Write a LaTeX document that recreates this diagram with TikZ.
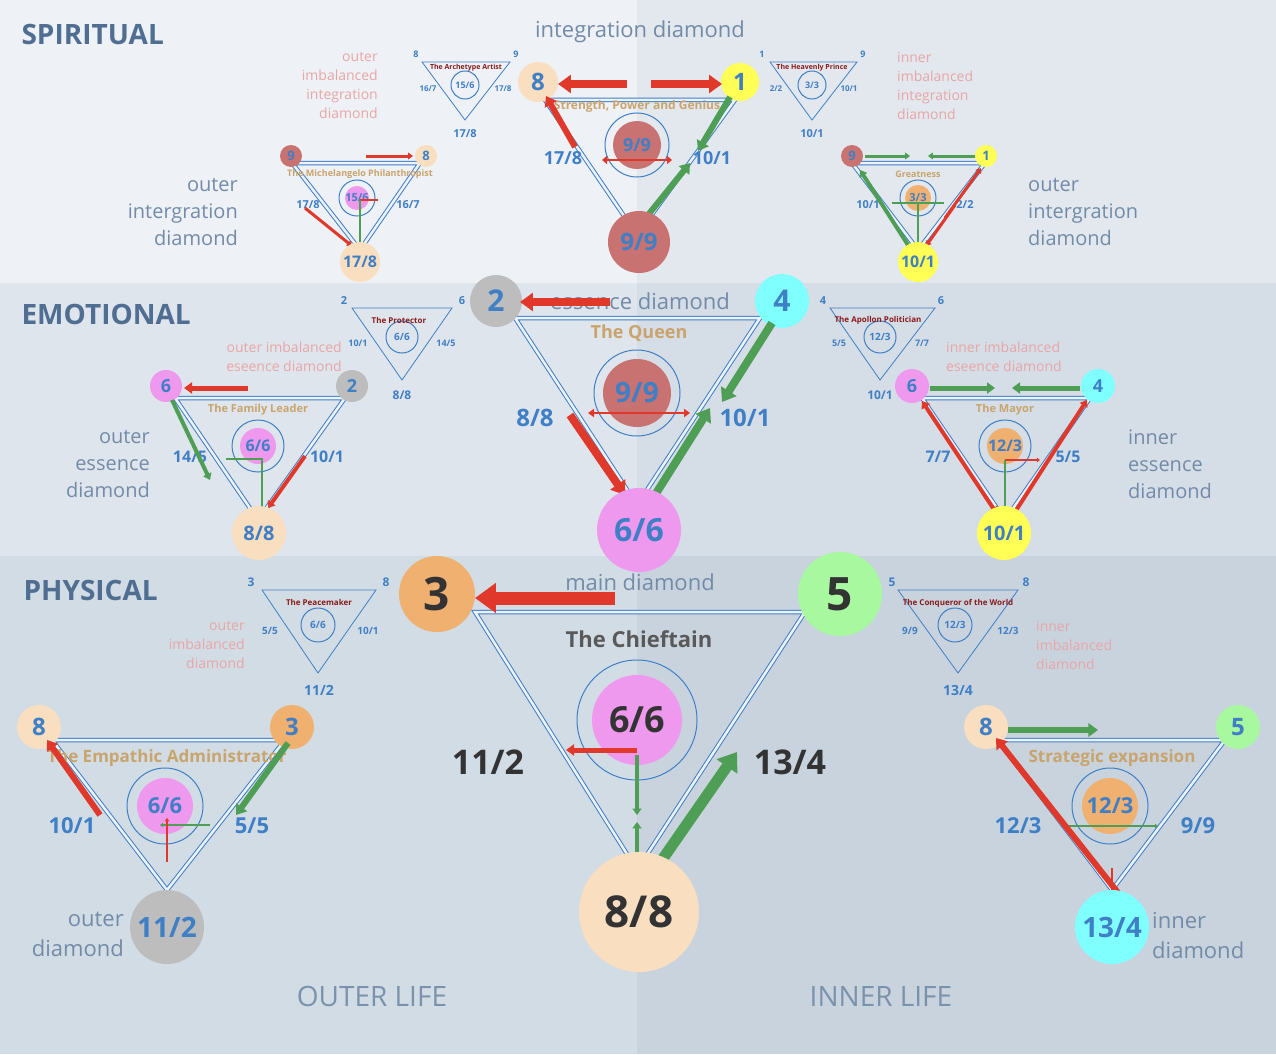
\documentclass[tikz,border=0pt]{standalone}
\usepackage{fontspec}
\setmainfont{Open Sans}
\usetikzlibrary{arrows.meta}
\definecolor{tb}{HTML}{3F7FC6}
\definecolor{hd}{HTML}{4F6E92}
\definecolor{pk}{HTML}{E8A6A6}
\definecolor{tan}{HTML}{C9A46C}
\definecolor{dr}{HTML}{8B1A1A}
\definecolor{ra}{HTML}{E0382A}
\definecolor{ga}{HTML}{4E9E55}
\definecolor{cpeach}{HTML}{F9DEC0}
\definecolor{cyel}{HTML}{FFFF55}
\definecolor{cbrown}{HTML}{C87272}
\definecolor{cpink}{HTML}{EE99EE}
\definecolor{cgray}{HTML}{BDBDBD}
\definecolor{ccyan}{HTML}{80FFFF}
\definecolor{corange}{HTML}{F0B070}
\definecolor{cgreen}{HTML}{A8F8A0}
\definecolor{bgA}{HTML}{EEF1F5}
\definecolor{bgB}{HTML}{E2E8EE}
\definecolor{bgC}{HTML}{DFE5EC}
\definecolor{bgD}{HTML}{D5DDE6}
\definecolor{bgE}{HTML}{D2DCE5}
\definecolor{bgF}{HTML}{C8D3DE}
\newcommand\fz[1]{\fontsize{#1}{#1}\selectfont}
\newcommand\fzl[1]{\fontsize{#1}{\the\numexpr#1*135/100\relax}\selectfont}
\tikzset{
 cc/.style 2 args={circle,inner sep=0,minimum size=#1,fill=#2},
 lab/.style={text=tb,font=\bfseries\fz{#1}},
 ttl/.style={text=tan,font=\bfseries\fz{#1}},
 ttr/.style={text=dr,font=\bfseries\fz{#1}},
 hdr/.style={text=hd,font=\bfseries\fz{28}},
 gry/.style 2 args={text=hd!80,font=\fzl{#1},align=#2,inner sep=0},
 pinkt/.style 2 args={text=pk,font=\fzl{#1},align=#2,inner sep=0},
 tri/.style={draw=tb,line width=1pt,double=white!90!tb,double distance=2.5pt},
 stri/.style={draw=tb,line width=0.8pt},
 ring/.style={draw=tb,line width=1pt,circle,inner sep=0,minimum size=#1},
 rarr/.style={draw=ra,line width=#1,-{Triangle[length=#1*1.6,width=#1*2.2]}},
 garr/.style={draw=ga,line width=#1,-{Triangle[length=#1*1.6,width=#1*2.2]}},
}
\begin{document}
\begin{tikzpicture}[x=1pt,y=-1pt]
\useasboundingbox (0,0) rectangle (1276,1054);
\fill[bgA] (0,0) rectangle (637,283);
\fill[bgB] (637,0) rectangle (1276,283);
\fill[bgC] (0,283) rectangle (637,556);
\fill[bgD] (637,283) rectangle (1276,556);
\fill[bgE] (0,556) rectangle (637,1054);
\fill[bgF] (637,556) rectangle (1276,1054);
% ---------- SPIRITUAL
\node[hdr,anchor=west] (hs) at (18,35) {SPIRITUAL};
\node[gry={22}{center}] (ts) at (640,32) {integration diamond};
\draw[tri] (545,100) -- (735,100) -- (637,235) -- cycle;
\node[ttl=12] (t1) at (637,106) {Strength, Power and Genius};
\node[cc={40}{cpeach}] (s8) at (538,82) {}; \node[lab=24] at (s8) {8};
\node[cc={38}{cyel}] (s1) at (740,82) {}; \node[lab=24] at (s1) {1};
\draw[rarr=8] (627,84) -- (558,84);
\draw[rarr=8] (651,84) -- (722,84);
\node[cc={48}{cbrown}] (s99) at (637,145) {}; \node[ring=64] at (s99) {}; \node[lab=18] at (s99) {9/9};
\draw[draw=ra,line width=1.5pt,{Triangle[length=5pt]}-{Triangle[length=5pt]}] (602,160) -- (672,160);
\node[lab=18] at (563,158) {17/8}; \node[lab=18] at (712,158) {10/1};
\draw[rarr=6] (575,147) -- (546,96);
\draw[garr=6] (730,97) -- (698,151);
\draw[garr=6] (648,215) -- (690,163);
\node[cc={62}{cbrown}] (sb) at (639,242) {}; \node[lab=24] at (sb) {9/9};
% small triangles
\draw[stri] (422,62) -- (510,62) -- (465,120) -- cycle; \node[ring=28] (a1) at (465,85) {\textcolor{tb}{\bfseries\fz{9}15/6}};
\node[ttr=7] at (466,68) {The Archetype Artist};
\node[lab=9] at (416,54) {8}; \node[lab=9] at (516,54) {9}; \node[lab=8] at (428,89) {16/7}; \node[lab=8] at (503,89) {17/8}; \node[lab=11] at (465,134) {17/8};
\draw[stri] (770,62) -- (857,62) -- (812,120) -- cycle; \node[ring=28] (a2) at (812,85) {\textcolor{tb}{\bfseries\fz{9}3/3}};
\node[ttr=7] at (812,68) {The Heavenly Prince};
\node[lab=9] at (762,54) {1}; \node[lab=9] at (863,54) {9}; \node[lab=8] at (776,89) {2/2}; \node[lab=8] at (849,89) {10/1}; \node[lab=11] at (812,134) {10/1};
\node[pinkt={14}{right},anchor=north east] at (378,52) {outer\\imbalanced\\integration\\diamond};
\node[pinkt={14}{left},anchor=north west] at (897,52) {inner\\imbalanced\\integration\\diamond};
% Michelangelo
\draw[tri] (292,163) -- (420,163) -- (360,250) -- cycle;
\node[cc={22}{cbrown}] (m9) at (291,156) {}; \node[lab=13] at (m9) {9};
\node[cc={22}{cpeach}] (m8) at (426,156) {}; \node[lab=13] at (m8) {8};
\draw[rarr=3] (366,156) -- (413,156);
\node[ttl=9] at (360,174) {The Michelangelo Philanthropist};
\node[cc={24}{cpink}] (m15) at (357,198) {}; \node[ring=36] at (m15) {}; \node[lab=11] at (m15) {15/6};
\node[lab=11] at (308,205) {17/8}; \node[lab=11] at (408,205) {16/7};
\draw[rarr=3] (305,208) -- (352,246);
\draw[ra,line width=2pt] (360,200) -- (378,200);
\draw[ga,line width=1.5pt] (360,200) -- (360,258);
\node[cc={40}{cpeach}] (m17) at (360,262) {}; \node[lab=16] at (m17) {17/8};
\node[gry={20}{right},anchor=north east] at (238,178) {outer\\intergration\\diamond};
% Greatness
\draw[tri] (852,163) -- (985,163) -- (918,250) -- cycle;
\node[cc={22}{cbrown}] (g9) at (852,156) {}; \node[lab=13] at (g9) {9};
\node[cc={22}{cyel}] (g1) at (986,156) {}; \node[lab=13] at (g1) {1};
\draw[garr=3] (865,156) -- (910,156); \draw[garr=3] (975,156) -- (928,156);
\node[ttl=9] at (918,174) {Greatness};
\node[cc={26}{corange}] (g33) at (918,198) {}; \node[ring=36] at (g33) {}; \node[lab=11] at (g33) {3/3};
\draw[ga,line width=1.5pt] (892,203) -- (944,203); \draw[ga,line width=1.5pt] (918,203) -- (918,255);
\node[lab=11] at (868,205) {10/1}; \node[lab=11] at (965,205) {2/2};
\draw[garr=4] (908,245) -- (860,170);
\draw[rarr=3] (945,218) -- (981,168);
\draw[rarr=3] (955,205) -- (926,246);
\node[cc={40}{cyel}] (g10) at (918,262) {}; \node[lab=16] at (g10) {10/1};
\node[gry={20}{left},anchor=north west] at (1028,178) {outer\\intergration\\diamond};
% ---------- EMOTIONAL
\node[hdr,anchor=west] (he) at (18,314) {EMOTIONAL};
\draw[tri] (515,318) -- (760,318) -- (637,505) -- cycle;
\node[gry={22}{center}] at (640,301) {essence diamond};
\node[cc={52}{cgray}] (e2) at (496,301) {}; \node[lab=30] at (e2) {2};
\node[cc={54}{ccyan}] (e4) at (782,301) {}; \node[lab=30] at (e4) {4};
\draw[rarr=8] (610,302) -- (520,302);
\node[ttl=18] at (639,333) {The Queen};
\node[cc={68}{cbrown}] (e99) at (637,393) {}; \node[ring=86] at (e99) {}; \node[lab=28] at (e99) {9/9};
\draw[draw=ra,line width=1.5pt,{Triangle[length=6pt]}-{Triangle[length=6pt]}] (588,413) -- (690,413);
\node[lab=24] at (535,418) {8/8}; \node[lab=24] at (745,418) {10/1};
\draw[rarr=8] (570,415) -- (625,495);
\draw[garr=8] (655,495) -- (710,408);
\draw[garr=8] (772,323) -- (722,402);
\node[cc={84}{cpink}] (e66) at (639,530) {}; \node[lab=32] at (e66) {6/6};
\draw[stri] (352,308) -- (452,308) -- (402,380) -- cycle; \node[ring=32] at (402,337) {\textcolor{tb}{\bfseries\fz{10}6/6}};
\node[ttr=8] at (399,320) {The Protector};
\node[lab=11] at (344,301) {2}; \node[lab=11] at (462,301) {6}; \node[lab=9] at (358,343) {10/1}; \node[lab=9] at (446,343) {14/5}; \node[lab=12] at (402,395) {8/8};
\draw[stri] (830,308) -- (935,308) -- (880,380) -- cycle; \node[ring=32] at (880,337) {\textcolor{tb}{\bfseries\fz{10}12/3}};
\node[ttr=8] at (878,320) {The Apollon Politician};
\node[lab=11] at (823,301) {4}; \node[lab=11] at (941,301) {6}; \node[lab=9] at (839,343) {5/5}; \node[lab=9] at (922,343) {7/7}; \node[lab=12] at (880,395) {10/1};
\node[pinkt={14}{right},anchor=north east] at (342,342) {outer imbalanced\\eseence diamond};
\node[pinkt={14}{left},anchor=north west] at (946,342) {inner imbalanced\\eseence diamond};
% Family leader
\draw[tri] (175,398) -- (345,398) -- (258,520) -- cycle;
\node[cc={32}{cpink}] (f6) at (166,386) {}; \node[lab=18] at (f6) {6};
\node[cc={32}{cgray}] (f2) at (352,386) {}; \node[lab=18] at (f2) {2};
\draw[rarr=5] (248,388) -- (184,388);
\node[ttl=11] at (258,410) {The Family Leader};
\node[cc={36}{cpink}] (f66) at (258,446) {}; \node[ring=52] at (f66) {}; \node[lab=16] at (f66) {6/6};
\draw[ga,line width=1.5pt] (226,459) -- (262,459) -- (262,515);
\node[lab=16] at (190,457) {14/5}; \node[lab=16] at (327,457) {10/1};
\draw[garr=4] (172,400) -- (210,480);
\draw[rarr=4] (305,456) -- (268,508);
\node[cc={54}{cpeach}] (f88) at (259,533) {}; \node[lab=20] at (f88) {8/8};
\node[gry={20}{right},anchor=north east] at (150,430) {outer\\essence\\diamond};
% Mayor
\draw[tri] (922,398) -- (1090,398) -- (1005,520) -- cycle;
\node[cc={34}{cpink}] (y6) at (912,386) {}; \node[lab=18] at (y6) {6};
\node[cc={34}{ccyan}] (y4) at (1098,386) {}; \node[lab=18] at (y4) {4};
\draw[garr=5] (930,388) -- (995,388); \draw[garr=5] (1080,388) -- (1012,388);
\node[ttl=11] at (1005,410) {The Mayor};
\node[cc={36}{corange}] (y12) at (1005,446) {}; \node[ring=52] at (y12) {}; \node[lab=16] at (y12) {12/3};
\draw[rarr=2] (1005,460) -- (1040,460);
\draw[garr=2] (1005,460) -- (1005,515);
\node[lab=16] at (938,457) {7/7}; \node[lab=16] at (1068,457) {5/5};
\draw[draw=ra,line width=4pt,{Triangle[length=7pt,width=10pt]}-{Triangle[length=7pt,width=10pt]}] (922,401) -- (997,514);
\draw[rarr=4] (1015,512) -- (1087,400);
\node[cc={54}{cyel}] (y10) at (1004,533) {}; \node[lab=20] at (y10) {10/1};
\node[gry={20}{left},anchor=north west] at (1128,430) {inner\\essence\\diamond};
% ---------- PHYSICAL
\node[hdr,anchor=west] (hp) at (20,590) {PHYSICAL};
\draw[tri] (475,612) -- (805,612) -- (637,870) -- cycle;
\node[gry={22}{center}] at (640,582) {main diamond};
\node[cc={76}{corange}] (p3) at (437,594) {}; \node[text=black!80,font=\bfseries\fz{46}] at (p3) {3};
\node[cc={84}{cgreen}] (p5) at (840,594) {}; \node[text=black!80,font=\bfseries\fz{46}] at (p5) {5};
\draw[rarr=13] (615,598) -- (475,598);
\node[text=black!65,font=\bfseries\fz{22}] at (639,639) {The Chieftain};
\node[cc={90}{cpink}] (p66) at (637,720) {}; \node[ring=120] at (p66) {}; \node[text=black!80,font=\bfseries\fz{36}] at (p66) {6/6};
\draw[rarr=5] (637,750) -- (566,750);
\draw[garr=4] (637,755) -- (637,815);
\draw[garr=4] (637,900) -- (637,822);
\node[text=black!80,font=\bfseries\fz{34}] at (488,762) {11/2};
\node[text=black!80,font=\bfseries\fz{34}] at (790,762) {13/4};
\draw[garr=11] (655,870) -- (737,752);
\node[cc={120}{cpeach}] (p88) at (639,912) {}; \node[text=black!80,font=\bfseries\fz{44}] at (p88) {8/8};
\draw[stri] (262,590) -- (376,590) -- (318,673) -- cycle; \node[ring=34] at (318,625) {\textcolor{tb}{\bfseries\fz{10}6/6}};
\node[ttr=8] at (319,602) {The Peacemaker};
\node[lab=12] at (251,582) {3}; \node[lab=12] at (386,582) {8}; \node[lab=10] at (270,631) {5/5}; \node[lab=10] at (368,631) {10/1}; \node[lab=14] at (319,690) {11/2};
\draw[stri] (898,590) -- (1018,590) -- (958,673) -- cycle; \node[ring=34] at (955,625) {\textcolor{tb}{\bfseries\fz{10}12/3}};
\node[ttr=8] at (958,603) {The Conqueror of the World};
\node[lab=12] at (892,582) {5}; \node[lab=12] at (1026,582) {8}; \node[lab=10] at (910,631) {9/9}; \node[lab=10] at (1008,631) {12/3}; \node[lab=14] at (958,690) {13/4};
\node[pinkt={14}{right},anchor=north east] at (245,621) {outer\\imbalanced\\diamond};
\node[pinkt={14}{left},anchor=north west] at (1036,621) {inner\\imbalanced\\diamond};
% Empathic administrator
\draw[tri] (52,740) -- (285,740) -- (167,890) -- cycle;
\node[cc={44}{cpeach}] (o8) at (39,727) {}; \node[lab=24] at (o8) {8};
\node[cc={44}{corange}] (o3) at (292,727) {}; \node[lab=24] at (o3) {3};
\node[ttl=17] at (167,758) {The Empathic Administrator};
\node[cc={56}{cpink}] (o66) at (165,806) {}; \node[ring=76] at (o66) {}; \node[lab=22] at (o66) {6/6};
\draw[garr=2] (210,825) -- (160,825);
\draw[rarr=2] (167,862) -- (167,818);
\node[lab=22] at (72,826) {10/1}; \node[lab=22] at (252,826) {5/5};
\draw[rarr=6] (100,815) -- (47,740);
\draw[garr=6] (288,743) -- (236,815);
\node[cc={74}{cgray}] (o11) at (167,927) {}; \node[lab=28] at (o11) {11/2};
\node[gry={22}{right},anchor=north east] at (124,912) {outer\\diamond};
% Strategic expansion
\draw[tri] (998,740) -- (1225,740) -- (1112,890) -- cycle;
\node[cc={44}{cpeach}] (i8) at (986,727) {}; \node[lab=24] at (i8) {8};
\node[cc={44}{cgreen}] (i5) at (1238,727) {}; \node[lab=24] at (i5) {5};
\draw[garr=6] (1008,730) -- (1098,730);
\node[ttl=17] at (1112,758) {Strategic expansion};
\node[cc={56}{corange}] (i12) at (1110,806) {}; \node[ring=76] at (i12) {}; \node[lab=22] at (i12) {12/3};
\draw[garr=2] (1068,826) -- (1158,826);
\draw[rarr=2] (1112,868) -- (1112,905);
\node[lab=22] at (1018,826) {12/3}; \node[lab=22] at (1198,826) {9/9};
\draw[draw=ra,line width=6pt,{Triangle[length=10pt,width=14pt]}-{Triangle[length=10pt,width=14pt]}] (996,738) -- (1130,908);
\node[cc={74}{ccyan}] (i13) at (1112,927) {}; \node[lab=28] at (i13) {13/4};
\node[gry={22}{left},anchor=north west] at (1152,912) {inner\\diamond};
\node[text=hd!75,font=\fz{28}] at (372,996) {OUTER LIFE};
\node[text=hd!75,font=\fz{28}] at (881,996) {INNER LIFE};
\end{tikzpicture}
\end{document}
